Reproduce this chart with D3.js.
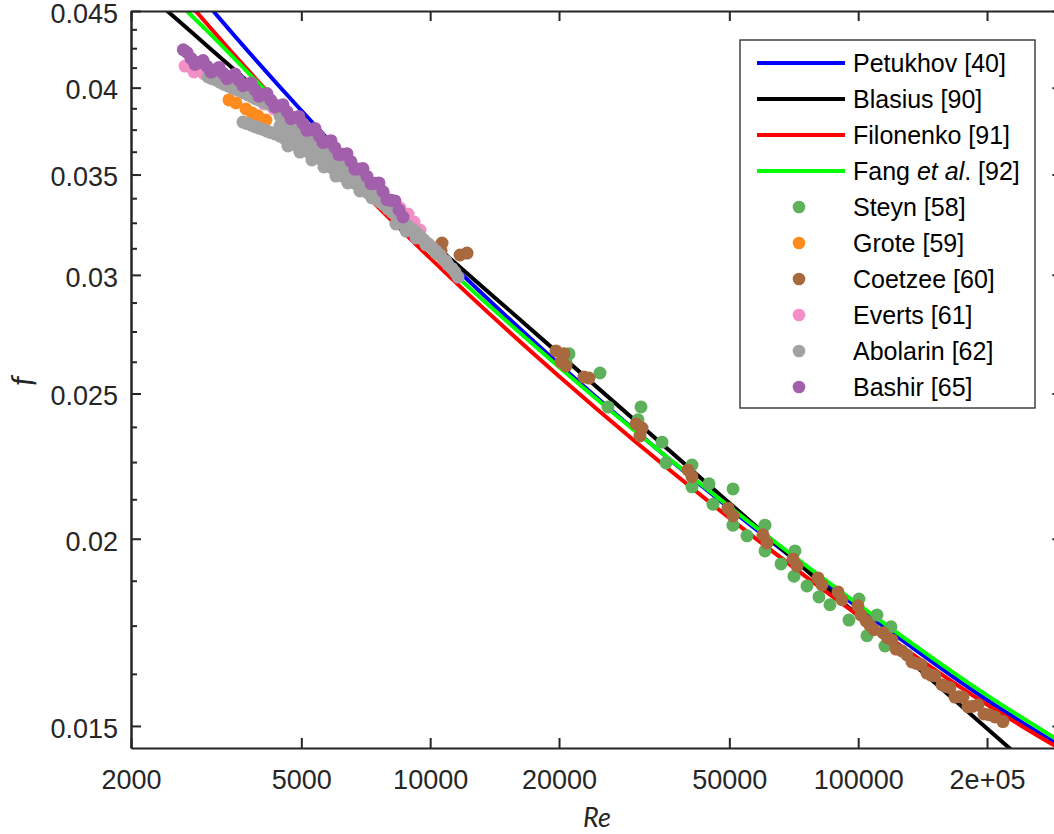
<!DOCTYPE html>
<html>
<head>
<meta charset="utf-8">
<script src="https://cdn.jsdelivr.net/npm/d3@7"></script>
<style>
  body { margin: 0; background: #fff; }
  svg { display: block; }
  text { font-family: "Liberation Sans", Arial, sans-serif; }
</style>
</head>
<body>
<div id="viz"></div>
<script>
// axis ticks
var reTicks = [2000, 5000, 10000, 20000, 50000, 100000, 200000],
    reTickLabels = ['2000', '5000', '10000', '20000', '50000', '100000', '2e+05'],
    fTicks = [0.015, 0.02, 0.025, 0.03, 0.035, 0.04, 0.045],
    fTickLabels = ['0.015', '0.02', '0.025', '0.03', '0.035', '0.04', '0.045'],
    fMinorTicks = [0.01625, 0.0175, 0.01875, 0.02125, 0.0225, 0.02375, 0.02625, 0.0275, 0.02875,
                   0.03125, 0.0325, 0.03375, 0.03625, 0.0375, 0.03875, 0.04125, 0.0425, 0.04375];

// correlation curves
var curveRe   = [2000, 2500, 3000, 5000, 10000, 20000, 50000, 100000, 200000, 300000],
    petukhov  = [0.05249, 0.04850, 0.04556, 0.03862, 0.03148, 0.02615, 0.02096, 0.01799, 0.01561, 0.01452],
    blasius   = [0.04726, 0.04469, 0.04270, 0.03758, 0.03160, 0.02657, 0.02113, 0.01777, 0.01494, 0.01350],
    filonenko = [0.05068, 0.04693, 0.04416, 0.03759, 0.03078, 0.02567, 0.02065, 0.01778, 0.01550, 0.01445],
    fang      = [0.0494, 0.0460, 0.0437, 0.03764, 0.03108, 0.02604, 0.02101, 0.01808, 0.01572, 0.01462];

// experimental data [Re, f]
var steyn = [[21105,0.02657],[20767,0.02620],[24934,0.02580],[26031,0.02449],[31086,0.02449],[30589,0.02401],
  [34804,0.02320],[35561,0.02247],[40899,0.02240],[40899,0.02166],[44816,0.02176],[45790,0.02109],[50990,0.02159],
  [50990,0.02042],[54979,0.02009],[60569,0.02042],[60569,0.01963],[66012,0.01924],[71175,0.01963],[70794,0.01888],
  [75921,0.01860],[80984,0.01829],[85919,0.01807],[100426,0.01823],[95166,0.01765],[110634,0.01779],[104840,0.01723],
  [119286,0.01747],[115499,0.01696]];

var grote = [[3388,0.03925],[3518,0.03907],[3712,0.03871],[3834,0.03847],[3960,0.03829],[4133,0.03806]];

var coetzee = [[10658,0.03150],[10601,0.03112],[11741,0.03093],[12192,0.03102],[19679,0.02669],[20545,0.02657],
  [20216,0.02624],[20767,0.02608],[22878,0.02564],[23502,0.02560],[30261,0.02386],[31254,0.02371],[30919,0.02342],
  [40028,0.02223],[40899,0.02200],[49638,0.02096],[50990,0.02071],[59920,0.02012],[61224,0.01987],[70413,0.01939],
  [71945,0.01918],[80549,0.01883],[82301,0.01863],[89698,0.01843],[91648,0.01821],[99886,0.01804],[101510,0.01779],
  [104278,0.01763],[108863,0.01739],[114263,0.01731],[119930,0.01712],[122539,0.01688],[130008,0.01673],
  [133552,0.01655],[140175,0.01648],[144774,0.01627],[151140,0.01620],[156939,0.01598],[163839,0.01591],
  [168307,0.01568],[175706,0.01568],[180497,0.01545],[190472,0.01549],[196719,0.01528],[208710,0.01521],
  [217886,0.01510],[106500,0.01751],[117000,0.01718],[126500,0.01683],[137000,0.01651],[148000,0.01622],
  [160000,0.01594],[172000,0.01569],[185000,0.01546],[202000,0.01526]];

var everts = [[2675,0.04135],[2807,0.04098],[2963,0.04085],[3126,0.04060],[3298,0.04022],[3481,0.04004],
  [3673,0.03974],[3876,0.03943],[4090,0.03901],[4315,0.03871],[4554,0.03830],[4805,0.03794],[5073,0.03754],
  [5351,0.03713],[5647,0.03668],[5959,0.03634],[6289,0.03579],[6637,0.03536],[7004,0.03487],[7391,0.03440],
  [7799,0.03392],[8142,0.03361],[8501,0.03325],[8876,0.03294],[9167,0.03254],[9468,0.03214]];

var abolarin = [[3027,0.04066],[3159,0.04048],[3298,0.04022],[3443,0.03998],[3594,0.03980],[3752,0.03956],
  [3917,0.03931],[4089,0.03913],[4269,0.03889],
  [3093,0.04055],[3228,0.04033],[3370,0.04010],[3518,0.03989],[3672,0.03968],[3834,0.03943],[4002,0.03922],[4178,0.03901],
  [3653,0.03794],[3813,0.03777],[3981,0.03759],[4156,0.03742],[4338,0.03725],
  [3732,0.03785],[3896,0.03768],[4068,0.03751],[4246,0.03733],
  [4457,0.03829],[4457,0.03771],[4457,0.03713],[4653,0.03800],[4653,0.03742],[4653,0.03691],
  [4857,0.03765],[4857,0.03713],[4857,0.03662],[5070,0.03731],[5070,0.03685],[5070,0.03640],
  [5294,0.03696],[5294,0.03651],[5294,0.03612],[5526,0.03662],[5526,0.03623],[5526,0.03585],
  [5769,0.03629],[5769,0.03590],[5769,0.03552],[6022,0.03596],[6022,0.03558],[6022,0.03519],
  [6287,0.03563],[6287,0.03525],[6287,0.03487],[6563,0.03525],[6563,0.03492],[6563,0.03461],
  [6852,0.03481],[6852,0.03434],[7153,0.03445],[7153,0.03403],[7467,0.03403],[7467,0.03371],
  [7795,0.03366],[7795,0.03340],
  [4554,0.03815],[4554,0.03756],[4554,0.03702],[4754,0.03783],[4754,0.03728],[4754,0.03677],
  [4962,0.03748],[4962,0.03699],[4962,0.03651],[5180,0.03713],[5180,0.03668],[5180,0.03626],
  [5409,0.03679],[5409,0.03637],[5409,0.03598],[5646,0.03646],[5646,0.03607],[5646,0.03569],
  [5894,0.03612],[5894,0.03574],[5894,0.03536],[6153,0.03579],[6153,0.03541],[6153,0.03503],
  [6424,0.03544],[6424,0.03508],[6424,0.03476],[6706,0.03503],[6706,0.03450],
  [7001,0.03463],[7001,0.03418],[7308,0.03424],[7308,0.03387],[7629,0.03384],[7629,0.03356],
  [7965,0.03335],[7965,0.03320],
  [4653,0.03657],[4962,0.03623],[5294,0.03579],[5646,0.03541],[6022,0.03492],[6424,0.03455],
  [6852,0.03413],[7308,0.03377],
  [8138,0.03304],[8505,0.03269],[8879,0.03234],[9267,0.03204],[9675,0.03165],[10100,0.03131],
  [10544,0.03093],[11008,0.03046],[11429,0.03013],[11615,0.02990],
  [8315,0.03286],[8690,0.03252],[9070,0.03219],[9469,0.03184],[9885,0.03148],[10320,0.03112],
  [10773,0.03069],[11246,0.03030],
  [8315,0.03244],[8784,0.03209],[9267,0.03175],[9780,0.03141],[10320,0.03102],[10890,0.03065]];

var bashir = [[2650,0.0424],[2704,0.04222],[2823,0.04145],[2947,0.04170],[3076,0.04096],[3211,0.04126],
  [3352,0.04055],[3499,0.04085],[3653,0.04012],[3814,0.04029],[3981,0.03948],[4156,0.03964],[4339,0.03883],
  [4530,0.03896],[4729,0.03814],[4936,0.03827],[5153,0.03746],[5380,0.03757],[5617,0.03677],[5864,0.03687],
  [6122,0.03608],[6391,0.03614],[6672,0.03529],[6966,0.03532],[7273,0.03451],[7593,0.03455],[7927,0.03367],
  [8276,0.03361],[8640,0.03279],
  [2763,0.04184],[2884,0.04157],[3011,0.04133],[3143,0.04110],[3281,0.04090],[3425,0.04069],[3575,0.04048],
  [3732,0.04020],[3897,0.03987],[4068,0.03956],[4246,0.03923],[4433,0.03890],[4629,0.03855],[4832,0.03820],
  [5043,0.03786],[5265,0.03751],[5497,0.03716],[5739,0.03682],[5992,0.03647],[6255,0.03611],[6530,0.03571],
  [6817,0.03530],[7118,0.03490],[7431,0.03453],[7758,0.03410],[8099,0.03364],[8456,0.03315]];

var lineSeries = [
  { name: 'Petukhov [40]', color: '#0000ff', values: petukhov },
  { name: 'Blasius [90]', color: '#000000', values: blasius },
  { name: 'Filonenko [91]', color: '#ff0000', values: filonenko },
  { name: 'Fang', color: '#00ff00', values: fang }
];
var dotSeries = [
  { name: 'Steyn [58]', color: '#5db15b', values: steyn },
  { name: 'Grote [59]', color: '#ff8b1f', values: grote },
  { name: 'Coetzee [60]', color: '#a8693f', values: coetzee },
  { name: 'Everts [61]', color: '#f48ec6', values: everts },
  { name: 'Abolarin [62]', color: '#a2a2a2', values: abolarin },
  { name: 'Bashir [65]', color: '#a25fab', values: bashir }
];

var width = 1054, height = 834,
    plot = { left: 131, top: 11, right: 1062.4, bottom: 748 },
    axisColor = '#262626';

var xScale = d3.scaleLog().domain([2000, 300000]).range([plot.left, plot.right]);
var yScale = d3.scaleLog().domain([0.0145, 0.045]).range([plot.bottom, plot.top]);

var svg = d3.select('#viz').append('svg')
  .attr('width', width)
  .attr('height', height);

svg.append('clipPath').attr('id', 'plotclip')
  .append('rect')
  .attr('x', plot.left).attr('y', plot.top)
  .attr('width', plot.right - plot.left).attr('height', plot.bottom - plot.top);

// curves
var line = d3.line()
  .x(function(d) { return xScale(d[0]); })
  .y(function(d) { return yScale(d[1]); })
  .curve(d3.curveMonotoneX);

svg.append('g').attr('clip-path', 'url(#plotclip)')
  .selectAll('path').data(lineSeries)
  .enter().append('path')
    .attr('fill', 'none')
    .attr('stroke', function(d) { return d.color; })
    .attr('stroke-width', 4)
    .attr('d', function(d) {
      return line(curveRe.map(function(re, i) { return [re, d.values[i]]; }));
    });

// scatter
dotSeries.forEach(function(s) {
  svg.append('g').attr('clip-path', 'url(#plotclip)')
    .selectAll('circle').data(s.values)
    .enter().append('circle')
      .attr('cx', function(d) { return xScale(d[0]); })
      .attr('cy', function(d) { return yScale(d[1]); })
      .attr('r', 6.5)
      .attr('fill', s.color);
});

// axes
function styleAxis(g) {
  g.selectAll('path').attr('stroke', axisColor).attr('stroke-width', 2);
  g.selectAll('line').attr('stroke', axisColor).attr('stroke-width', 2);
  g.selectAll('text').attr('fill', axisColor).style('font-size', '27px')
    .style('font-family', '"Liberation Sans", Arial, sans-serif');
}

var xBottom = svg.append('g')
  .attr('transform', 'translate(0,' + plot.bottom + ')')
  .call(d3.axisBottom(xScale).tickValues(reTicks)
    .tickFormat(function(d, i) { return reTickLabels[i]; })
    .tickSizeInner(-10).tickSizeOuter(0).tickPadding(22));
styleAxis(xBottom);

var xTop = svg.append('g')
  .attr('transform', 'translate(0,' + plot.top + ')')
  .call(d3.axisTop(xScale).tickValues(reTicks).tickFormat('')
    .tickSizeInner(-10).tickSizeOuter(0));
styleAxis(xTop);

var yLeft = svg.append('g')
  .attr('transform', 'translate(' + plot.left + ',0)')
  .call(d3.axisLeft(yScale).tickValues(fTicks)
    .tickFormat(function(d, i) { return fTickLabels[i]; })
    .tickSizeInner(-10).tickSizeOuter(0).tickPadding(13));
styleAxis(yLeft);
yLeft.selectAll('text').attr('dy', '0.42em');

var yLeftMinor = svg.append('g')
  .attr('transform', 'translate(' + plot.left + ',0)')
  .call(d3.axisLeft(yScale).tickValues(fMinorTicks).tickFormat('')
    .tickSizeInner(-6).tickSizeOuter(0));
styleAxis(yLeftMinor);

var yRight = svg.append('g')
  .attr('transform', 'translate(' + plot.right + ',0)')
  .call(d3.axisRight(yScale).tickValues(fTicks).tickFormat('')
    .tickSizeInner(-10).tickSizeOuter(0));
styleAxis(yRight);

var yRightMinor = svg.append('g')
  .attr('transform', 'translate(' + plot.right + ',0)')
  .call(d3.axisRight(yScale).tickValues(fMinorTicks).tickFormat('')
    .tickSizeInner(-6).tickSizeOuter(0));
styleAxis(yRightMinor);

// axis titles
svg.append('text')
  .attr('x', 597).attr('y', 827)
  .attr('text-anchor', 'middle')
  .style('font-family', 'Lato, "Open Sans", sans-serif')
  .style('font-style', 'italic')
  .style('font-size', '27px')
  .attr('fill', axisColor)
  .text('Re');

svg.append('text')
  .attr('transform', 'translate(33,381) rotate(-90)')
  .attr('text-anchor', 'middle')
  .style('font-family', 'Lato, "Open Sans", sans-serif')
  .style('font-style', 'italic')
  .style('font-size', '30px')
  .attr('fill', axisColor)
  .text('f');

// legend
var legend = svg.append('g');
legend.append('rect')
  .attr('x', 740).attr('y', 40)
  .attr('width', 295).attr('height', 368)
  .attr('fill', '#fff')
  .attr('stroke', axisColor)
  .attr('stroke-width', 1.3);

var rowY = function(i) { return 63 + i * 36.0; };

lineSeries.forEach(function(s, i) {
  legend.append('line')
    .attr('x1', 757).attr('x2', 845)
    .attr('y1', rowY(i)).attr('y2', rowY(i))
    .attr('stroke', s.color).attr('stroke-width', 4);
  var t = legend.append('text')
    .attr('x', 853).attr('y', rowY(i) + 9)
    .style('font-size', '25px')
    .attr('fill', '#000');
  if (s.name === 'Fang') {
    t.append('tspan').text('Fang ');
    t.append('tspan').style('font-style', 'italic').text('et al');
    t.append('tspan').text('. [92]');
  } else {
    t.text(s.name);
  }
});

dotSeries.forEach(function(s, i) {
  var k = i + lineSeries.length;
  legend.append('circle')
    .attr('cx', 799).attr('cy', rowY(k))
    .attr('r', 6.3)
    .attr('fill', s.color);
  legend.append('text')
    .attr('x', 853).attr('y', rowY(k) + 9)
    .style('font-size', '25px')
    .attr('fill', '#000')
    .text(s.name);
});
</script>
</body>
</html>
